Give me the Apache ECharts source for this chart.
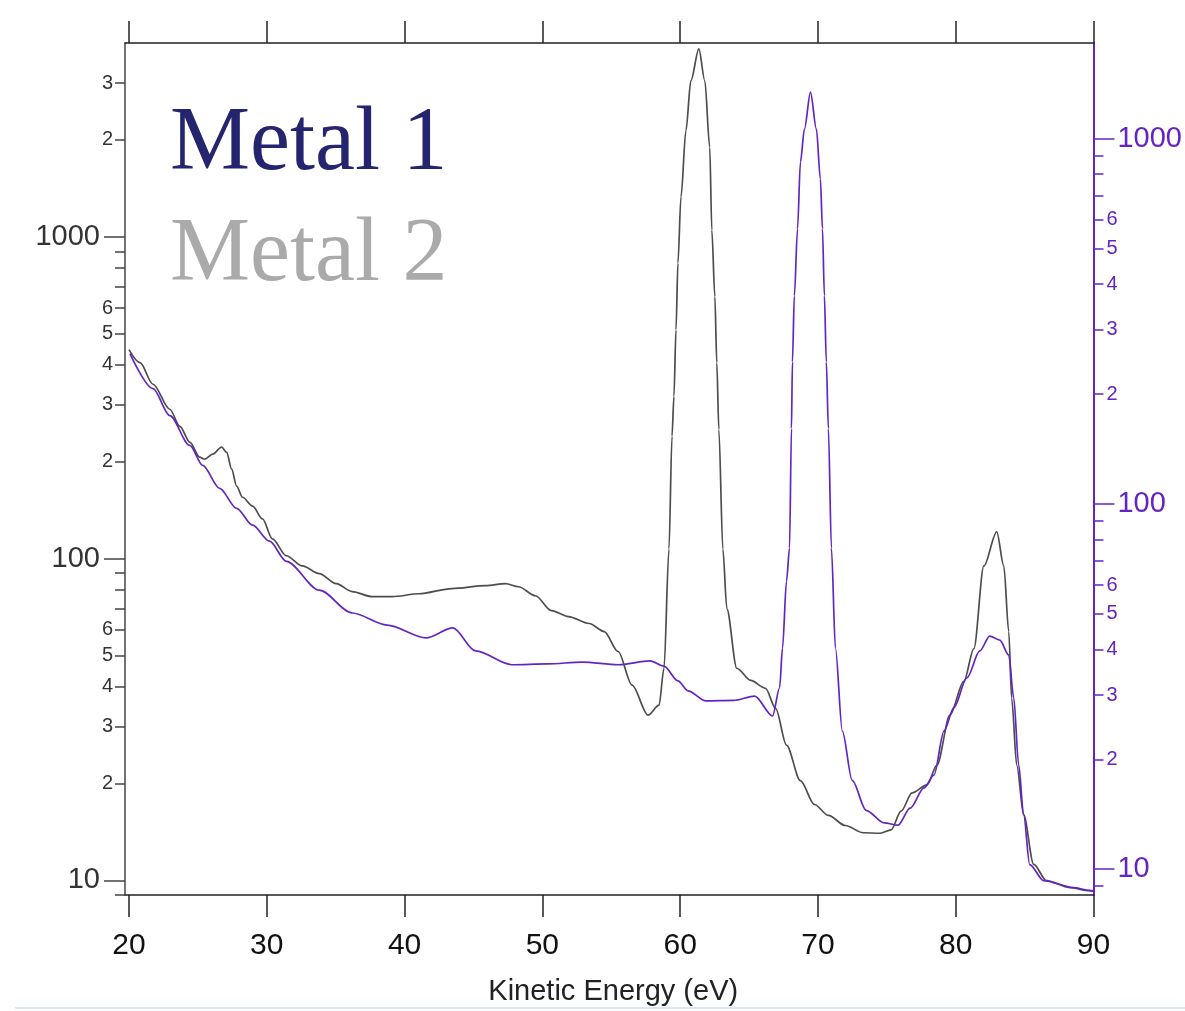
<!DOCTYPE html>
<html>
<head>
<meta charset="utf-8">
<script src="https://cdn.jsdelivr.net/npm/echarts@6/dist/echarts.min.js"></script>
<style>
  html, body { margin: 0; padding: 0; background: #ffffff; overflow: hidden; }
  #chart { width: 1185px; height: 1011px; }
</style>
</head>
<body>
<div id="chart"></div>
<script>
// ---- Data ----
const energyGray = [20.0, 20.80, 21.74, 22.96, 23.69, 24.41, 25.13, 25.50, 26.07, 26.72, 27.09, 27.45, 27.81, 28.24, 28.97, 29.69, 30.41, 31.42, 32.58, 33.81, 35.04, 36.20, 37.64, 39.09, 41.04, 43.43, 45.89, 47.33, 48.27, 49.50, 50.66, 51.89, 53.40, 54.49, 55.50, 56.51, 57.67, 58.47, 58.83, 59.19, 59.41, 59.55, 59.70, 59.84, 60.06, 60.42, 60.78, 61.36, 61.79, 62.15, 62.30, 62.52, 62.66, 62.81, 63.10, 63.39, 64.11, 65.12, 66.20, 66.93, 67.72, 68.73, 69.75, 70.76, 71.99, 73.29, 74.52, 75.31, 76.04, 76.83, 77.92, 78.64, 79.58, 80.59, 81.32, 82.04, 82.98, 83.49, 83.85, 84.06, 84.43, 84.93, 85.66, 86.59, 88.26, 89.70, 90.0];
const countsGray = [446, 406, 348, 291, 257.5, 230, 206.5, 203.5, 211, 222, 213.8, 189.6, 167.9, 155, 145.5, 132.7, 115, 102, 94.8, 89.7, 83.5, 78.9, 76.1, 76.1, 77.7, 80.6, 82.3, 83.5, 81.7, 76.6, 68.9, 66.0, 62.8, 59.3, 51.4, 40.4, 32.6, 35.0, 45.6, 107, 240, 319, 514, 829, 1327, 2138, 3055, 3837, 3055, 1896, 1049, 651, 406, 252, 107, 69.9, 45.6, 41.8, 39.5, 34.2, 26.3, 20.4, 17.2, 15.9, 14.8, 14.05, 14.0, 14.35, 16.4, 18.7, 19.8, 22.8, 32.6, 41.5, 52.5, 94.8, 121, 94.8, 59.3, 36.8, 22.8, 16.0, 11.2, 9.98, 9.49, 9.29, 9.25];

const energyPurple = [20.07, 21.74, 22.96, 24.41, 25.35, 26.58, 27.81, 28.97, 30.20, 31.42, 33.81, 36.20, 38.73, 41.55, 43.50, 45.16, 47.77, 50.37, 52.90, 55.50, 57.82, 58.83, 59.84, 60.57, 61.87, 63.89, 65.41, 66.71, 67.22, 67.43, 67.72, 67.94, 68.08, 68.15, 68.29, 68.52, 68.73, 69.02, 69.46, 69.89, 70.18, 70.33, 70.47, 70.61, 70.76, 70.98, 71.27, 71.77, 72.49, 73.50, 74.81, 75.82, 76.69, 77.70, 78.42, 79.15, 79.87, 80.81, 81.75, 82.47, 83.20, 83.85, 84.21, 84.57, 84.93, 85.37, 86.38, 88.55, 89.70, 90.0];
const countsPurple = [258, 207, 174.7, 144.7, 127.6, 110.4, 97.3, 87.5, 79.1, 69.7, 58.1, 50.3, 46.6, 43.0, 45.8, 39.6, 36.3, 36.5, 36.9, 36.3, 37.2, 36.0, 32.8, 30.8, 28.9, 29.0, 29.8, 26.3, 31.4, 40.3, 61.5, 75.7, 161, 245, 372, 567, 864, 1063, 1343, 1063, 776, 567, 372, 245, 161, 75.7, 40.3, 23.9, 17.5, 14.5, 13.4, 13.2, 14.7, 16.7, 18.1, 23.9, 27.7, 33.4, 39.6, 43.5, 42.4, 38.6, 29.5, 19.3, 14.1, 10.3, 9.31, 8.91, 8.75, 8.72];

const xTicks = [20, 30, 40, 50, 60, 70, 80, 90];
const leftMajor = [10, 100, 1000];
const leftMinorTicks = [9, 20, 30, 40, 50, 60, 70, 80, 90, 200, 300, 400, 500, 600, 700, 800, 900, 2000, 3000];
const leftMinorLabels = [20, 30, 40, 50, 60, 200, 300, 400, 500, 600, 2000, 3000];
const rightMajor = [10, 100, 1000];
const rightMinorTicks = [9, 20, 30, 40, 50, 60, 70, 80, 90, 200, 300, 400, 500, 600, 700, 800, 900];
const rightMinorLabels = [20, 30, 40, 50, 60, 200, 300, 400, 500, 600];
const legendLabels = ['Metal 1', 'Metal 2'];

// ---- Chart ----
const GRAY = '#4d4d4d';
const PURPLE = '#6424c4';
const AXIS_DARK = '#444444';

function leadDigit(v) {
  const p = Math.pow(10, Math.floor(Math.log10(v) + 1e-9));
  return String(Math.round(v / p));
}

const chart = echarts.init(document.getElementById('chart'), null, { renderer: 'canvas' });

const grayData = energyGray.map((e, i) => [e, countsGray[i]]);
const purpleData = energyPurple.map((e, i) => [e, countsPurple[i]]);

const X_RANGE = {min: 19.71, max: 90};
const LEFT = {min: 9, max: 4000};
const RIGHT = {min: 8.5, max: 1830};

chart.setOption({
  animation: false,
  backgroundColor: '#ffffff',
  grid: { left: 125, right: 88, top: 43, bottom: 114, containLabel: false },
  xAxis: [
    {
      type: 'value', min: X_RANGE.min, max: X_RANGE.max, position: 'bottom',
      name: 'Kinetic Energy (eV)', nameLocation: 'middle', nameGap: 82,
      nameTextStyle: { fontFamily: 'Liberation Sans', fontSize: 29, color: '#222', padding: [0, 0, 0, 8] },
      axisLine: { show: true, lineStyle: { color: '#222', width: 1.5 } },
      axisTick: { show: true, length: 22, lineStyle: { color: '#222', width: 1.5 }, customValues: xTicks },
      axisLabel: { fontFamily: 'Liberation Sans', fontSize: 30, color: '#111', margin: 36, customValues: xTicks },
      splitLine: { show: false }
    },
    {
      type: 'value', min: X_RANGE.min, max: X_RANGE.max, position: 'top',
      axisLine: { show: true, lineStyle: { color: '#222', width: 1.5 } },
      axisTick: { show: true, length: 22, lineStyle: { color: '#222', width: 1.5 }, customValues: xTicks },
      axisLabel: { show: false },
      splitLine: { show: false }
    }
  ],
  yAxis: [
    {
      type: 'log', logBase: 10, min: LEFT.min, max: LEFT.max, position: 'left',
      axisLine: { show: true, lineStyle: { color: AXIS_DARK, width: 1.5 } },
      axisTick: { show: true, length: 21, lineStyle: { color: AXIS_DARK, width: 1.5 }, customValues: leftMajor },
      axisLabel: { fontFamily: 'Liberation Sans', fontSize: 29, color: '#333', margin: 25, customValues: leftMajor,
                   formatter: v => String(Math.round(v)) },
      splitLine: { show: false }
    },
    {
      type: 'log', logBase: 10, min: LEFT.min, max: LEFT.max, position: 'left',
      axisLine: { show: false },
      axisTick: { show: true, length: 10, lineStyle: { color: AXIS_DARK, width: 1.5 }, customValues: leftMinorTicks },
      axisLabel: { fontFamily: 'Liberation Sans', fontSize: 20, color: '#333', margin: 12, customValues: leftMinorLabels,
                   formatter: v => leadDigit(v) },
      splitLine: { show: false }
    },
    {
      type: 'log', logBase: 10, min: RIGHT.min, max: RIGHT.max, position: 'right',
      axisLine: { show: true, lineStyle: { color: PURPLE, width: 2 } },
      axisTick: { show: true, length: 21, lineStyle: { color: PURPLE, width: 1.5 }, customValues: rightMajor },
      axisLabel: { fontFamily: 'Liberation Sans', fontSize: 29, color: PURPLE, margin: 24, customValues: rightMajor,
                   formatter: v => String(Math.round(v)) },
      splitLine: { show: false }
    },
    {
      type: 'log', logBase: 10, min: RIGHT.min, max: RIGHT.max, position: 'right',
      axisLine: { show: false },
      axisTick: { show: true, length: 10, lineStyle: { color: PURPLE, width: 1.5 }, customValues: rightMinorTicks },
      axisLabel: { fontFamily: 'Liberation Sans', fontSize: 20, color: PURPLE, margin: 13, customValues: rightMinorLabels,
                   formatter: v => leadDigit(v) },
      splitLine: { show: false }
    }
  ],
  series: [
    {
      name: legendLabels[1], type: 'line', xAxisIndex: 0, yAxisIndex: 0,
      data: grayData, showSymbol: false, smooth: 0.3, smoothMonotone: 'x',
      lineStyle: { color: GRAY, width: 1.7 }, z: 3
    },
    {
      name: legendLabels[0], type: 'line', xAxisIndex: 0, yAxisIndex: 2,
      data: purpleData, showSymbol: false, smooth: 0.3, smoothMonotone: 'x',
      lineStyle: { color: PURPLE, width: 1.7 }, z: 4
    }
  ],
  graphic: [
    {
      type: 'text', left: 170, top: 100, z: 10,
      style: { text: legendLabels[0], font: '90px "Liberation Serif", "Times New Roman", serif', fill: '#25256f' }
    },
    {
      type: 'text', left: 170, top: 211, z: 10,
      style: { text: legendLabels[1], font: '90px "Liberation Serif", "Times New Roman", serif', fill: '#aaaaaa' }
    },
    {
      type: 'rect', left: 15, top: 1007, z: 1,
      shape: { width: 1170, height: 2 },
      style: { fill: '#dbe6f3' }
    }
  ]
});
</script>
</body>
</html>
